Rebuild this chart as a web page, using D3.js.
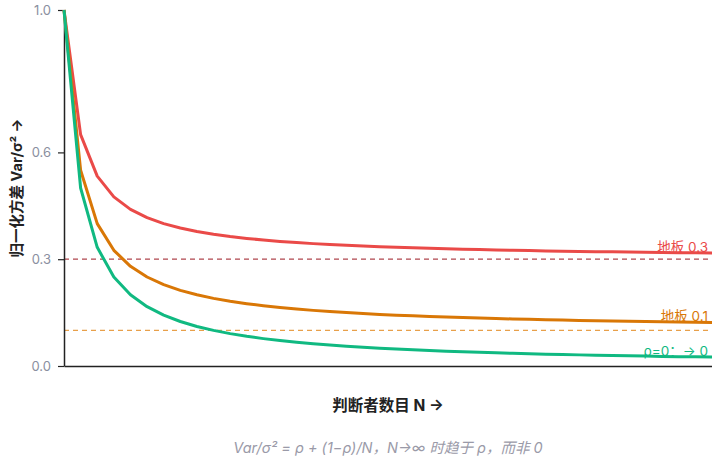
<!DOCTYPE html>
<html><head><meta charset="utf-8">
<script src="https://cdn.jsdelivr.net/npm/d3@7"></script>
<style>body{margin:0;background:#fff;font-family:Inter,"Noto Sans CJK SC","Noto Sans",sans-serif;}</style>
</head><body>
<svg id="c" width="712" height="461"></svg>
<script>
const rhos = [0.3, 0.1, 0];
const seriesColors = ["#ea4a48", "#d97706", "#10b981"];
const seriesLabels = ["地板 0.3", "地板 0.1", "ρ=0：→ 0"];
const floorValues = [0.3, 0.1];
const floorColors = ["#b0464e", "#e8a04a"];
const nValues = d3.range(1, 41);
const yTicks = [0, 0.3, 0.6, 1.0];
const xTitle = "判断者数目 N →";
const yTitle = "归一化方差 Var/σ² →";
const caption = "Var/σ² = ρ + (1−ρ)/N，N→∞ 时趋于 ρ，而非 0";

const FONT = "Inter, 'Noto Sans CJK SC', 'Noto Sans', sans-serif";
const svg = d3.select("#c").attr("font-family", FONT);
const m = {l:64, r:0, t:10, b:95};
const W = 712, H = 461;
const x = d3.scaleLinear().domain([1, 40]).range([m.l, W - m.r]);
const y = d3.scaleLinear().domain([0, 1]).range([H - m.b, m.t]);

// floor lines
floorValues.forEach((f, i) => {
  svg.append("line").attr("x1", x(1)).attr("x2", x(40)).attr("y1", y(f)).attr("y2", y(f))
    .attr("stroke", floorColors[i]).attr("stroke-width", 1.2).attr("stroke-dasharray", "5,4");
});

// y axis
const ya = svg.append("g").attr("transform", `translate(${m.l},0)`)
  .call(d3.axisLeft(y).tickValues(yTicks).tickFormat(d3.format(".1f")).tickSize(6).tickSizeOuter(0));
ya.select(".domain").attr("stroke", "#222").attr("stroke-width", 1.5);
ya.selectAll(".tick line").attr("stroke", "#222").attr("stroke-width", 1.2);
ya.selectAll(".tick text").attr("fill", "#8a8fa0").attr("font-size", 13).attr("font-family", FONT).attr("dx", "-4");

// x axis
const xa = svg.append("g").attr("transform", `translate(0,${y(0)})`)
  .call(d3.axisBottom(x).tickValues([]).tickSizeOuter(0));
xa.select(".domain").attr("stroke", "#222").attr("stroke-width", 1.5);

// curves
const line = d3.line().x(d => x(d.n)).y(d => y(d.v));
rhos.forEach((r, i) => {
  const data = nValues.map(n => ({n, v: r + (1 - r) / n}));
  const last = data[data.length - 1];
  svg.append("text").attr("x", 708).attr("y", y(last.v) - 1).attr("text-anchor", "end")
    .attr("fill", seriesColors[i]).attr("font-size", 13.5).text(seriesLabels[i]);
  svg.append("path").datum(data).attr("d", line).attr("fill", "none")
    .attr("stroke", seriesColors[i]).attr("stroke-width", 3).attr("stroke-linejoin", "round");
});

// titles
svg.append("text").attr("x", (m.l + W) / 2).attr("y", 411).attr("text-anchor", "middle")
  .attr("font-size", 15.5).attr("font-weight", "bold").attr("fill", "#222").text(xTitle);
svg.append("text").attr("transform", `translate(22,${(y(0)+y(1))/2}) rotate(-90)`).attr("text-anchor", "middle")
  .attr("font-size", 14.5).attr("font-weight", "bold").attr("fill", "#222").text(yTitle);
svg.append("text").attr("x", (m.l + W) / 2 - 0).attr("y", 453).attr("text-anchor", "middle")
  .attr("font-size", 14.5).attr("font-style", "italic").attr("fill", "#9a9aa8").text(caption);
</script>
</body></html>
